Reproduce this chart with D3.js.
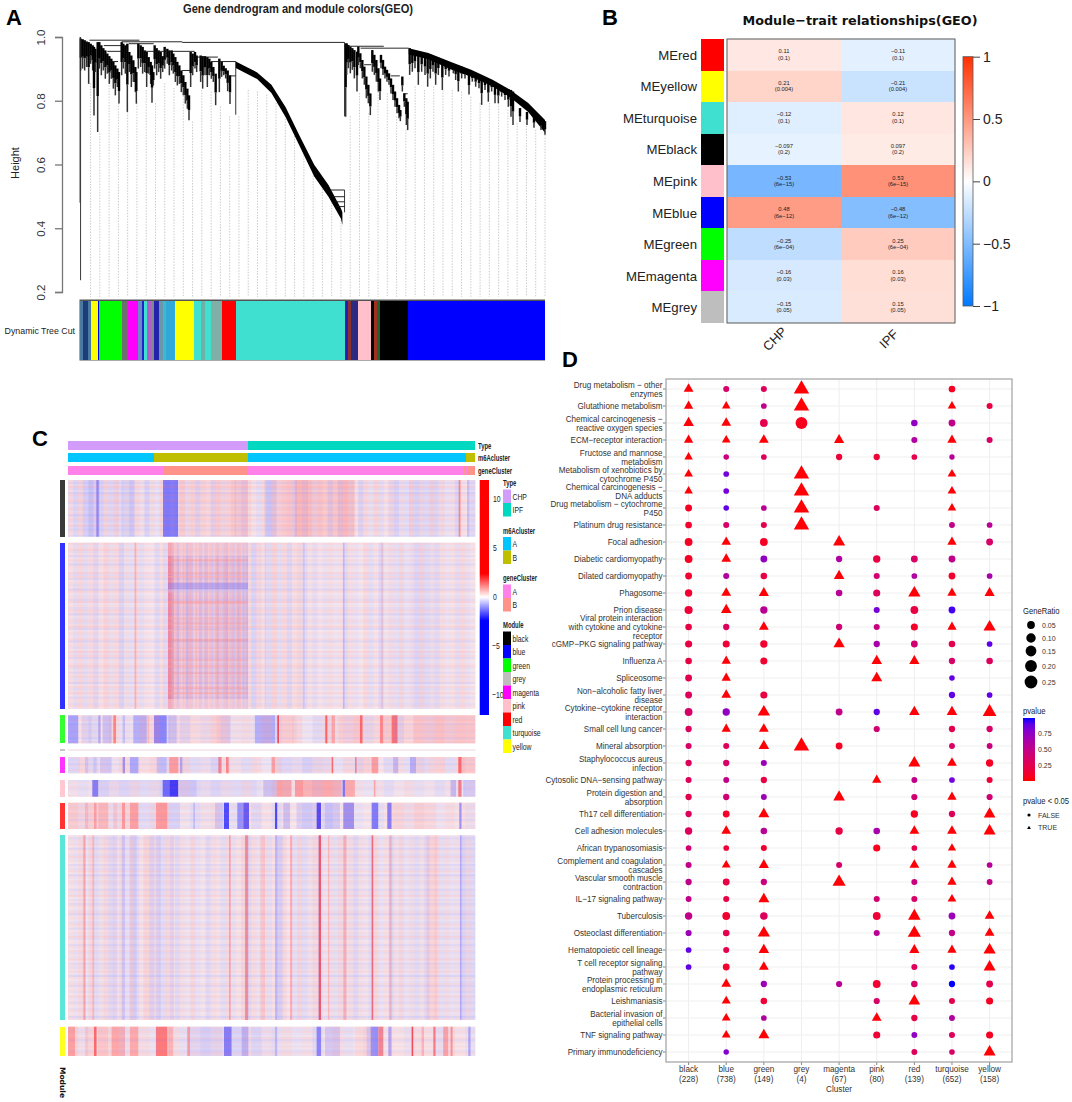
<!DOCTYPE html>
<html>
<head>
<meta charset="utf-8">
<script src="https://cdn.jsdelivr.net/npm/d3@7"></script>
<style>
  html, body { margin: 0; background: #fff; }
  svg { display: block; font-family: "Liberation Sans", Arial, sans-serif; }
</style>
</head>
<body>
<svg id="fig" width="1072" height="1102"></svg>
<script>
// ---- panel A data: dendrogram (leaf order, height) ----
const treeTicks = [0.2, 0.4, 0.6, 0.8, 1.0];
const guideTops = [.855,.698,.866,.793,.782,.793,.834,.793,.855,.84,.824,.735,.834,.829,.782,.751,.751,.834,.829,.819,.793,.761,.698,.646,.583,.541,.499,.426,.751,.824,.761,.855,.824,.751,.709,.845,.834,.845,.834,.834,.829,.813,.793,.793,.793,.772,.73,.73,.709,.693];
const mergeFrom = [28,118,288,743,788,68,78,88,138,178,288,323,368,423,798,873,908,703,708,713,718];
const mergeTo = [168,288,743,853,923,123,118,108,208,323,313,388,438,438,818,898,920,743,743,743,743];
const mergeH = [.99,.985,.983,.971,.965,.973,.955,.923,.979,.955,.895,.937,.923,.878,.913,.878,.822,.52,.499,.483,.468];
const spikeLeaf = [1,3,438,743,743];
const spikeTop = [1,1,.923,.983,.52];
const spikeBottom = [.48,.237,.756,.751,.45];
const curveLeaf = [438,498,538,578,618,658,698,733,737];
const curveTop = [.923,.889,.85,.78,.688,.599,.536,.462,.45];
const curveBottom = [.903,.868,.824,.748,.656,.562,.499,.43,.41];
const tailLeaf = [923,978,1038,1098,1158,1208,1258,1305];
const tailTop = [.965,.95,.923,.897,.866,.834,.793,.74];
const tailBottom = [.945,.93,.9,.875,.845,.81,.765,.7];
const hairLeaf = [20,26,32,38,44,50,56,60,64,71,76,82,88,94,100,106,112,118,124,130,135,143,148,154,160,166,172,178,184,187,193,200,206,212,218,224,230,234,238,242,248,254,260,266,272,280,286,293,298,304,310,316,322,328,334,340,345,350,356,363,368,380,386,393,400,406,412,418,425,436,443,449,455,461,468,
  815,818,823,829,835,841,849,853,859,865,871,877,883,889,895,901,907,913,918,921,927,933,939,945,951,957,963,969,975,979,985,991,997,1001,
  1007,1015,1023,1033,1043,1053,1061,1069,1077,1085,1093,1105,1115,1125,1138,1145,1153,1163,1173,1185,1195,1205,1215,1223,1233,1243,1253,1263,1273,1283,1293,1303,1311,1317,1338,1359,1380,1401,1413];
const hairTop = [.995,.993,.99,.986,.984,.979,.974,.969,.963,.984,.984,.974,.965,.958,.948,.94,.932,.922,.911,.901,.89,.984,.979,.974,.979,.953,.942,.927,.906,.89,.979,.974,.969,.958,.953,.937,.922,.911,.89,.974,.965,.958,.953,.94,.969,.963,.958,.958,.948,.937,.922,.911,.895,.88,.859,.838,.817,.953,.948,.953,.942,.942,.94,.94,.937,.932,.922,.906,.885,.932,.922,.91,.902,.895,.88,
  .98,.98,.975,.97,.965,.959,.954,.97,.949,.928,.907,.876,.85,.823,.959,.944,.928,.902,.87,.944,.928,.907,.897,.886,.87,.85,.829,.808,.787,.771,.876,.823,.808,.797,
  .965,.959,.956,.949,.949,.946,.946,.944,.941,.938,.935,.931,.925,.921,.914,.912,.91,.907,.902,.891,.886,.883,.879,.879,.872,.868,.862,.858,.852,.847,.841,.837,.834,.829,.777,.765,.755,.746,.736];
const hairBottom = [.895,.901,.895,.906,.853,.916,.895,.754,.89,.702,.901,.88,.895,.869,.885,.853,.869,.838,.817,.843,.791,.88,.901,.885,.765,.89,.843,.859,.827,.791,.901,.906,.885,.89,.843,.885,.853,.794,.848,.901,.88,.89,.869,.89,.901,.916,.88,.895,.885,.859,.848,.853,.827,.817,.791,.775,.739,.843,.88,.901,.89,.859,.838,.88,.843,.88,.869,.859,.786,.827,.875,.88,.87,.83,.79,
  .75,.881,.902,.886,.897,.87,.829,.912,.902,.87,.85,.808,.792,.755,.891,.881,.86,.829,.802,.902,.881,.87,.86,.85,.823,.802,.781,.761,.745,.736,.829,.781,.724,.708,
  .881,.891,.902,.85,.891,.881,.844,.87,.891,.85,.881,.834,.881,.876,.886,.865,.829,.87,.87,.82,.86,.844,.839,.787,.834,.797,.829,.792,.792,.813,.802,.781,.75,.724,.733,.724,.715,.708,.693];
const cutStart = [0,10,23,33,51,56,120,135,164,174,182,188,200,208,222,234,243,269,322,340,352,368,399,438,743,752,760,781,818,826,835,843,920];
const cutColor = ["#4a7aa0","#1d3d7a","#4a7aa0","#ffff00","#0000ff","#00ff00","#6e6e6e","#ff00ff","#6a8ac8","#2222cc","#40e0d0","#b45cc8","#808890","#2222aa","#6a98a8","#40b8d0","#30a8d8","#ffff00","#40e0d0","#6fb0a8","#40e0d0","#7eb0a8","#ff0000","#40e0d0","#2222aa","#8a3030","#2a2a80","#ffc0cb","#000000","#a03020","#206030","#000000","#0000ff"];
const cutEnd = 1305;

// ---- panel B data ----
const traitModules = ["red","yellow","turquoise","black","pink","blue","green","magenta","grey"];
const traitSwatch = ["#ff0000","#ffff00","#40e0d0","#000000","#ffc0cb","#0000ff","#00ff00","#ff00ff","#bebebe"];
const traitNames = ["CHP","IPF"];
const corCHP = [0.11,0.21,-0.12,-0.097,-0.53,0.48,-0.25,-0.16,-0.15];
const corIPF = [-0.11,-0.21,0.12,0.097,0.53,-0.48,0.25,0.16,0.15];
const corP = ["0.1","0.004","0.1","0.2","6e−15","6e−12","6e−04","0.03","0.05"];
const corTicks = [-1,-0.5,0,0.5,1];

// ---- panel C data: [first sample, last sample, value] bands read per module ----
const heatBlack = [[0,45,-.15],[45,95,-.5],[85,92,-1.3],[95,160,-.2],[160,200,-.45],[200,285,-.1],[285,330,-1.4],[330,400,.3],[400,500,.35],[500,540,.6],[540,590,.05],[590,625,-.5],[625,680,.5],[680,720,.8],[720,810,.55],[810,860,.7],[860,960,.1],[960,1040,-.2],[1040,1110,-.25],[1110,1172,-.1],[1172,1178,1.2],[1178,1197,0],[1197,1205,-.7],[1205,1222,-.1]];
const heatBlue = [[0,45,.1],[45,60,-.2],[60,155,.15],[155,200,-.15],[200,205,.8],[205,285,0],[285,300,-.2],[300,318,.7],[318,410,.2],[410,540,.15],[540,590,-.05],[590,595,-.4],[595,705,.05],[705,710,-.5],[710,825,.05],[825,830,-.7],[830,940,0],[940,945,.5],[945,1030,-.1],[1030,1100,-.2],[1100,1222,.05]];
const heatGreen = [[0,31,-1],[31,41,0],[41,71,-.4],[71,91,.1],[91,98,-1],[98,104,.1],[104,131,-.7],[131,136,.1],[136,144,1.3],[144,164,0],[164,171,-.7],[171,196,.1],[196,236,-.9],[238,244,.7],[244,258,0],[258,296,-1.3],[301,326,-.7],[331,446,.3],[446,486,.5],[486,556,-.1],[561,621,-.9],[628,633,2],[636,676,.5],[686,766,0],[772,778,1.7],[791,801,1],[811,876,.5],[876,884,1.6],[884,936,.3],[936,946,1.3],[946,971,.4],[971,989,1.5],[989,1036,.4],[1036,1222,.6]];
const heatGrey = [[0,1222,.25]];
const heatMagenta = [[0,36,-.3],[36,51,.2],[51,61,-.6],[61,76,.1],[76,86,-.5],[86,96,.1],[96,131,-.6],[131,164,.1],[164,171,-1.2],[171,186,0],[186,211,-.9],[211,266,.2],[266,296,-.7],[296,304,.2],[304,331,1.1],[336,343,-1],[346,446,-.2],[451,461,1.3],[461,474,.1],[474,482,1.3],[486,566,-.1],[566,611,0],[611,621,1],[626,786,-.3],[791,796,1.6],[796,861,-.1],[861,866,1.3],[871,906,.4],[911,931,1.1],[931,976,0],[976,991,-.8],[991,1026,-.1],[1026,1044,-.9],[1044,1081,-.3],[1081,1131,.4],[1131,1171,-.1],[1171,1181,1.6],[1181,1222,.6]];
const heatPink = [[0,71,-.1],[73,91,-1.4],[91,281,-.3],[284,304,-1.6],[304,331,-2.2],[331,386,-.6],[386,566,-.3],[566,586,-.1],[586,626,-.7],[626,671,1],[671,681,0],[681,706,1.1],[706,731,.8],[731,821,.9],[824,831,-1.5],[831,861,.9],[861,916,-.1],[918,922,1],[926,1146,-.1],[1148,1164,-.8],[1164,1171,-.1],[1171,1181,1.4],[1181,1186,0],[1186,1222,-.6]];
const heatRed = [[0,51,.4],[51,61,.8],[61,78,.3],[78,86,1],[86,91,.2],[91,121,.8],[121,136,.2],[136,148,.6],[148,162,.2],[162,171,1.1],[171,186,.2],[186,211,1],[211,261,-.25],[264,298,1.1],[301,336,-.4],[336,376,-.1],[376,381,-.7],[381,441,-.1],[441,466,-.6],[468,483,-2],[483,508,-.1],[508,526,-1.2],[526,543,-1.8],[543,621,.1],[621,628,-2],[628,646,-.1],[646,666,-.7],[666,686,0],[686,746,-.5],[746,759,-2],[759,771,-.2],[771,816,-.6],[816,826,0],[826,858,-1.2],[858,911,0],[911,931,-1.4],[931,958,0],[958,971,-1.4],[971,1106,.3],[1106,1174,.1],[1174,1181,-1.2],[1181,1222,.2]];
const heatTurquoise = [[0,46,.05],[46,53,1],[53,73,-.05],[73,79,.7],[79,136,-.1],[136,148,-.4],[148,161,-.1],[161,171,-.6],[171,186,-.1],[186,206,-.4],[206,226,0],[226,261,.25],[264,278,-.5],[278,306,-.1],[306,318,-.4],[318,483,-.05],[483,488,1],[488,531,.1],[531,541,1.2],[541,576,.1],[576,591,.5],[591,621,.05],[621,628,-.8],[628,646,-.3],[646,666,0],[666,673,.9],[673,752,-.1],[752,759,1.8],[759,781,-.1],[781,784,.9],[784,826,-.1],[826,836,.9],[836,911,-.1],[911,916,1.6],[916,964,0],[964,971,.8],[971,1076,-.1],[1076,1108,.4],[1108,1176,-.1],[1176,1181,-.9],[1181,1222,-.25]];
const heatYellow = [[0,21,1],[21,51,.2],[51,61,.6],[61,78,.2],[78,86,1.6],[86,91,.2],[91,121,.6],[121,131,.1],[131,171,.9],[171,186,.2],[186,211,.9],[211,261,-.1],[264,298,1.4],[301,316,.8],[316,356,-.1],[358,366,1.1],[366,466,-.4],[468,491,-1.4],[491,521,-.3],[521,541,-.9],[546,616,-.2],[621,628,-.8],[628,746,-.1],[746,759,-1.3],[759,771,-.1],[771,816,-.6],[816,861,-.1],[861,896,.3],[896,908,-.6],[908,931,-1.2],[931,946,1.3],[946,961,0],[961,971,-1],[971,1031,.1],[1031,1036,2],[1036,1061,.1],[1061,1068,.8],[1068,1096,.1],[1096,1103,1.4],[1103,1126,.1],[1126,1141,1],[1141,1148,.1],[1148,1154,1.2],[1154,1201,.1],[1201,1208,-1],[1208,1222,-.1]];

// horizontal banding estimated per module, one value per strip from top to bottom
const shadeBlack = [.3,-.4,.2,.5,-.3,.1,-.5,.4,-.2,.3,.5,-.4,.1,-.3,.4,-.1,.3,-.5,.2,.4,-.3,.1,.5,-.2,-.4,.3,.1,-.3];
const shadeBlue = [.4,-.2,.3,.5,-.3,.2,-.4,.1,.4,-.2,-.5,.3,.2,-.1,.5,-.3,.4,-.4,.1,.3,-.3,.2,-.5,.4,.1,-.2,.3,-.4,.5,-.1,.2,-.3,.4,.3,-.5,.1,-.2,.4,-.3,.2,.5,-.4,.1,.3,-.2,-.1,.4,-.5,.2,.3,-.3,.1,.5,-.2,.4,-.4,.2,-.1,.3,.5,-.3,.1,-.4,.2,.4,-.2,.3,-.5,.1,.4,-.3,.2,.5,-.1,-.4,.3,.2,-.3,.4,.1];
const shadeGreen = [.3,-.3,.4,.1,-.4,.3,-.2,.4,-.3,.2,.3,-.4,.1,.3];
const shadeMagenta = [.3,-.3,.2,-.4,.3,-.2,.4,.1];
const shadePink = [-.3,.3,-.2,.4,-.3,.2,-.1,.3];
const shadeRed = [.3,-.3,.4,-.2,.1,.4,-.3,.2,-.4,.3,.1,-.2,.3];
const shadeTurquoise = [.2,-.4,.3,-.2,.4,.1,-.5,.3,.2,-.3,.5,-.2,.3,.1,-.4,.2,-.3,.4,.1,-.5,.3,-.1,.4,-.3,.2,.1,-.4,.3,-.2,.5,.1,-.3,.2,-.4,.3,.1,-.2,.4,-.5,.2,.3,-.1,-.3,.4,.2,-.4,.1,.3,-.2,.5,-.3,.1,.2,-.4,.3,-.1,.4,-.3,.2,-.2,.5,.1,-.4,.3,-.3,.2,.4,-.1,-.5,.3,.1,-.2,.4,-.4,.2,.3,-.3,.1,.5,-.2,.2,-.4,.3,.1,-.3,.4,-.1,.2,-.5,.3];
const shadeYellow = [.3,-.3,.4,-.2,.1,.4,-.4,.3,-.1,.3,.1,-.3,.4,.2];
// fine columns estimated per module, left to right
const grainBlack = [.4,-.5,.6,-.2,-.7,.3,-.6,.5,-.4,.7,-.3,.2,-.6,.5,.3,-.7,.4,-.2,.6,-.5,.2,-.4,.7,-.3,.5,-.6,.4,.2,-.5,.6,-.3,.4,.7,-.2,-.5,.6,.3,-.4,.5,-.6,.7,-.2,.4,.6,-.5,.3,-.4,.7,-.3,.5,.2,-.6,.4,-.5,.6,-.2,.3,-.7,.5,-.3,.6,-.4,.2,.5,-.6,.3,-.2,.7,-.5,.4,-.3,.6,-.4,.5,-.2,.3,-.6,.4,.2,-.5];
const grainBlue = [.3,-.4,.5,-.2,.4,-.5,.2,.5,-.3,.4,-.6,.3,-.2,.5,-.4,.3,.2,-.5,.4,-.3,.6,-.2,.3,-.5,.4,.2,-.4,.5,-.3,.6,-.5,.7,-.4,.6,-.6,.5,-.7,.6,.3,-.5,.7,-.4,.5,-.6,.4,.6,-.5,.3,-.4,.2,-.3,.4,-.2,.3,-.5,.4,-.3,.2,.5,-.4,.3,-.6,.2,.4,-.3,.5,-.2,.3,-.4,.5,-.3,.2,-.5,.4,-.2,.3,-.4,.5,-.3,.2];
const grainTurquoise = [.3,-.3,.5,-.2,.6,-.4,.3,.5,-.5,.2,.4,-.3,.6,-.5,.3,.4,-.6,.2,-.4,.5,.3,-.5,.4,-.2,.6,-.3,.2,-.5,.4,.3,-.4,.5,-.3,.2,.6,-.5,.4,-.2,.5,-.4,.3,-.6,.5,.2,-.3,.6,-.4,.3,.5,-.5,.2,.4,-.3,.5,-.2,.4,-.5,.3,.2,-.4,.6,-.3,.4,-.5,.3,.5,-.2,.4,-.4,.3,-.5,.2,.5,-.3,.4,-.2,.3,-.5,.4,-.3];
const grainGreen = [-.4,.3,-.5,.2,.5,-.3,-.2,.4,.6,-.4,.3,-.5,.2,-.3,.5,-.6,.3,.4,-.2,.5,-.4,.3,.6,-.2,-.5,.4,.2,-.3,.5,-.4,.3,.6,-.5,.2,.4,-.3,.5,-.2,.4,.3];
const grainMagenta = [-.3,.4,-.5,.3,-.2,.5,-.6,.2,.4,-.4,.3,.5,-.3,.2,-.5,.4,.3,-.4,.5,-.2,.6,-.3,.2,-.5,.4,.3,-.2,.5,-.4,.3,.2,-.5,.4,-.3,.5,-.2,.3,-.4,.5,.2];
const grainPink = [.3,-.3,.2,-.5,.3,-.4,.4,-.2,.3,-.5,.2,.4,-.3,.2,-.4,.3,-.2,.4,-.3,.2,.5,-.2,.4,.5,-.4,.6,-.3,.5,.3,-.2,.3,-.4,.2,.4,-.3,.2,-.4,.3,-.3,.2];
const grainRed = [.5,-.2,.6,.3,-.3,.5,.6,-.2,.4,.5,-.3,.2,-.4,.3,.4,-.2,-.3,.3,-.5,.2,-.4,.3,.2,-.4,.3,-.5,.2,.4,-.3,.2,-.4,.3,.4,-.2,.5,.3,-.2,.4,.2,-.3];
const grainYellow = [.6,-.2,.5,.3,.6,-.3,.5,.4,-.2,.6,.4,-.3,.2,-.4,.3,.2,-.4,.3,-.5,.2,-.3,.4,-.2,.3,-.5,.2,.4,-.3,.2,.4,-.4,.3,.2,-.3,.4,.3,-.4,.5,.2,-.3];
// the hot zone of the blue module: rows [first %, last %, value], then its columns
const blueHotRows = [[0,8,.4],[10,11.2,1],[18,19,.9],[20,21,.8],[24,28,-1.3],[28,30,-.5],[35,37,1],[45,46,.9],[48,49.2,1],[52,53,.8],[58,59.4,1.1],[63,64,.8],[70,71,1],[74,75,.8],[78,79,1],[87,88,1],[90,91,.9],[94,100,.3]];
const blueHotCols = [.9,.8,-.4,.3,.5,-.6,.4,-.2,.5,.3,-.5,.4,.5,-.4,-.1,.5,.3,-.5,.4,-.1,.5,-.4,.2,.4,-.4,.3,.5,-.5,.3,-.2,.4,.5,-.5,.2,-.3,.5,-.4,.3,-.5,.5,.2,-.4,.3,-.5];

const moduleNames = ["black","blue","green","grey","magenta","pink","red","turquoise","yellow"];
const moduleColor = ["#000000","#0000ff","#00ff00","#bebebe","#ff00ff","#ffc0cb","#ff0000","#40e0d0","#ffff00"];
const heatTicks = [10,5,0,-5,-10];

// ---- panel D data ----
const clusterNames = ["black","blue","green","grey","magenta","pink","red","turquoise","yellow"];
const clusterCounts = [228,738,149,4,67,80,139,652,158];
const pathways = ["Drug metabolism − other\nenzymes","Glutathione metabolism","Chemical carcinogenesis −\nreactive oxygen species","ECM−receptor interaction","Fructose and mannose\nmetabolism","Metabolism of xenobiotics by\ncytochrome P450","Chemical carcinogenesis −\nDNA adducts","Drug metabolism − cytochrome\nP450","Platinum drug resistance","Focal adhesion","Diabetic cardiomyopathy","Dilated cardiomyopathy","Phagosome","Prion disease","Viral protein interaction\nwith cytokine and cytokine\nreceptor","cGMP−PKG signaling pathway","Influenza A","Spliceosome","Non−alcoholic fatty liver\ndisease","Cytokine−cytokine receptor\ninteraction","Small cell lung cancer","Mineral absorption","Staphylococcus aureus\ninfection","Cytosolic DNA−sensing pathway","Protein digestion and\nabsorption","Th17 cell differentiation","Cell adhesion molecules","African trypanosomiasis","Complement and coagulation\ncascades","Vascular smooth muscle\ncontraction","IL−17 signaling pathway","Tuberculosis","Osteoclast differentiation","Hematopoietic cell lineage","T cell receptor signaling\npathway","Protein processing in\nendoplasmic reticulum","Leishmaniasis","Bacterial invasion of\nepithelial cells","TNF signaling pathway","Primary immunodeficiency"];
const _ = null;
// GeneRatio, one row per pathway, one column per cluster
const geneRatio = [
 [.06,.016,.016,.25,_,_,_,.027,_],
 [.05,.035,.012,.25,_,_,_,.035,.016],
 [.08,.06,.05,.2,_,_,.025,.03,_],
 [.05,.04,.06,_,.07,_,.016,.05,.016],
 [.035,.01,.012,_,.02,.02,.012,.008,_],
 [.04,.012,_,.25,_,_,_,.04,_],
 [.035,.012,_,.25,_,_,_,.04,_],
 [.03,.01,.012,.25,_,.016,_,.035,_],
 [.027,.016,.016,.25,_,_,_,.014,.012],
 [.05,.055,.05,_,.12,_,_,.05,.03],
 [.05,.06,.03,_,.02,.04,.03,.03,_],
 [.03,.016,.025,_,.08,.016,.012,.03,.012],
 [.04,.06,.07,_,.025,.035,.13,.05,.07],
 [.06,.08,.04,_,_,.016,.05,.03,_],
 [.025,.02,.06,_,.02,.016,.035,.05,.13],
 [.035,.035,.04,_,.1,.02,.03,.025,.012],
 [.025,.05,.035,_,_,.08,.07,.02,.025],
 [.03,.05,_,_,_,.09,_,.01,_],
 [.03,.06,.035,_,_,_,_,.02,.012],
 [.05,.04,.13,_,.03,.02,.08,.08,.18],
 [.02,.05,.06,_,_,.018,_,.02,.02],
 [.016,.016,.08,.25,.03,_,_,.014,.014],
 [.02,.02,.016,_,_,_,.12,.06,.04],
 [.016,.014,.02,_,_,.05,.014,.012,.016],
 [.02,.02,.014,_,.11,_,.018,.05,.018],
 [.02,.03,.09,_,_,_,.04,.02,.11],
 [.04,.06,.025,_,.04,.025,.06,.06,.12],
 [.012,.012,.016,_,_,.035,.012,.03,_],
 [.016,.04,.07,_,.016,_,.06,.05,.012],
 [.02,.03,.02,_,.16,_,.016,.05,.014],
 [.014,.016,.09,_,_,.016,.016,.04,_],
 [.04,.05,.045,_,_,.05,.14,.03,.06],
 [.018,.025,.13,_,_,.016,.16,.02,.06],
 [.012,.016,.08,_,_,_,.07,.05,.13],
 [.012,.03,.06,_,_,_,.016,.012,.12],
 [_,.06,.02,_,.018,.05,.025,.02,.03],
 [_,.045,.025,_,_,.018,.11,.016,.035],
 [_,.04,.012,_,_,.06,.02,.014,_],
 [_,.04,.09,_,_,.035,.014,.016,.035],
 [_,.009,_,_,_,_,.014,.011,.12]
];
// p value, same layout as geneRatio; below 0.05 is drawn as a triangle
const pValue = [
 [.01,.35,.3,.01,_,_,_,.08,_],
 [.01,.01,.5,.01,_,_,_,.01,.2],
 [.01,.01,.25,.06,_,_,.75,.5,_],
 [.01,.01,.01,_,.01,_,.6,.01,.35],
 [.01,.45,.3,_,.15,.15,.25,.55,_],
 [.01,.85,_,.01,_,_,_,.01,_],
 [.01,.85,_,.01,_,_,_,.01,_],
 [.08,.9,.55,.01,_,.3,_,.01,_],
 [.1,.35,.25,.01,_,_,_,.5,.55],
 [.08,.01,.08,_,.01,_,_,.01,.35],
 [.08,.01,.75,_,.6,.2,.35,.5,_],
 [.12,.6,.2,_,.01,.4,.6,.1,.65],
 [.12,.01,.01,_,.55,.3,.01,.01,.01],
 [.15,.01,.55,_,_,.85,.2,.95,_],
 [.2,.3,.01,_,.4,.45,.1,.01,.01],
 [.2,.15,.12,_,.01,.65,.4,.25,.9],
 [.2,.01,.12,_,_,.01,.01,.35,.3],
 [.25,.01,_,_,_,.01,_,.9,_],
 [.3,.01,.2,_,_,_,_,.9,.9],
 [.35,.75,.01,_,.5,.9,.01,.01,.01],
 [.3,.01,.01,_,_,.4,_,.25,.35],
 [.35,.3,.01,.01,.08,_,_,.35,.45],
 [.3,.35,.7,_,_,_,.01,.01,.08],
 [.3,.5,.2,_,_,.01,.5,.85,.15],
 [.25,.4,.7,_,.01,_,.4,.01,.4],
 [.3,.1,.01,_,_,_,.08,.3,.01],
 [.3,.01,.55,_,.2,.65,.01,.01,.01],
 [.4,.15,.12,_,_,.05,.25,.01,_],
 [.5,.01,.01,_,.35,_,.01,.01,.55],
 [.5,.2,.45,_,.01,_,.45,.01,.5],
 [.5,.2,.01,_,_,.4,.35,.01,_],
 [.5,.12,.3,_,_,.15,.01,.7,.01],
 [.7,.25,.01,_,_,.55,.01,.5,.01],
 [.9,.25,.01,_,_,_,.01,.01,.01],
 [.9,.12,.01,_,_,_,.3,.98,.01],
 [_,.01,.7,_,.55,.12,.35,1,.25],
 [_,.01,.15,_,_,.35,.01,.25,.08],
 [_,.01,.6,_,_,.01,.2,.6,_],
 [_,.01,.01,_,_,.15,.75,.3,.08],
 [_,.8,_,_,_,_,.3,.35,.01]
];
const ratioLegend = [0.05,0.10,0.15,0.20,0.25];
const pLegend = [0.25,0.5,0.75];

const svg = d3.select("#fig");

// the source figure was squeezed sideways, so some text needs the same squeeze
function squeezed(g, txt, x, y, size, sx) {
  return g.append("text").attr("transform", `translate(${x},${y}) scale(${sx},1)`).attr("font-size", size).text(txt);
}

function panelLetter(t, x, y) {
  svg.append("text").attr("x", x).attr("y", y).attr("font-size", 22).attr("font-weight", "bold").text(t);
}
panelLetter("A", 6, 25);
panelLetter("B", 602, 25);
panelLetter("C", 32, 446);
panelLetter("D", 562, 367);

// ---- A: dendrogram ----
const treeX = d3.scaleLinear().domain([0, cutEnd]).range([79.5, 545]);
const hairX = d3.scaleLinear().domain([0, 1413]).range([74, 545]);
const treeY = d3.scaleLinear().domain([0.2, 1]).range([292, 37]);
const gA = svg.append("g");

gA.append("text").attr("x", 298).attr("y", 13).attr("text-anchor", "middle")
  .attr("font-size", 12).attr("font-weight", "bold").attr("fill", "#222")
  .attr("textLength", 230).attr("lengthAdjust", "spacingAndGlyphs")
  .text("Gene dendrogram and module colors(GEO)");

gA.append("g").attr("transform", "translate(62,0)")
  .call(d3.axisLeft(treeY).tickValues(treeTicks).tickFormat(d3.format(".1f")).tickSize(7))
  .call(g => g.selectAll("path,line").attr("stroke", "#777").attr("stroke-width", 1.3))
  .call(g => g.selectAll("text").attr("font-size", 11.5).attr("fill", "#333")
    .attr("font-family", "Liberation Sans").attr("x", 0).attr("dy", 0)
    .attr("text-anchor", "middle")
    .attr("transform", "translate(-17,0) rotate(-90)"));

gA.append("text").attr("transform", "translate(19,163) rotate(-90)").attr("text-anchor", "middle")
  .attr("font-size", 11).attr("fill", "#222").text("Height");

guideTops.forEach((h, i) => {
  const lx = treeX(31 + i * 26);
  gA.append("line").attr("x1", lx).attr("x2", lx)
    .attr("y1", treeY(h)).attr("y2", treeY(0.185))
    .attr("stroke", "#bbb").attr("stroke-width", 0.8).attr("stroke-dasharray", "1.4,1.4");
});

const bandArea = d3.area().x(d => treeX(d[0])).y0(d => treeY(d[1])).y1(d => treeY(d[2]));
gA.append("path").datum(d3.zip(curveLeaf, curveTop, curveBottom)).attr("d", bandArea).attr("fill", "#000");
gA.append("path").datum(d3.zip(tailLeaf, tailTop, tailBottom)).attr("d", bandArea).attr("fill", "#000");

hairLeaf.forEach((l, i) => {
  const lineH = d3.line().x(hairX(l)).y(d => treeY(d));
  const mid = hairTop[i] - (hairTop[i] - hairBottom[i]) * 0.6;
  gA.append("path").attr("d", lineH([hairTop[i], mid])).attr("stroke", "#000").attr("stroke-width", 2.4).attr("fill", "none");
  gA.append("path").attr("d", lineH([mid, hairBottom[i]])).attr("stroke", "#333").attr("stroke-width", 1.5).attr("fill", "none");
});
spikeLeaf.forEach((l, i) => {
  gA.append("line").attr("x1", treeX(l)).attr("x2", treeX(l))
    .attr("y1", treeY(spikeTop[i])).attr("y2", treeY(spikeBottom[i]))
    .attr("stroke", i < 1 ? "#666" : "#222").attr("stroke-width", 0.9);
});
mergeFrom.forEach((l, i) => {
  gA.append("line").attr("x1", treeX(l)).attr("x2", treeX(mergeTo[i]))
    .attr("y1", treeY(mergeH[i])).attr("y2", treeY(mergeH[i]))
    .attr("stroke", "#111").attr("stroke-width", 0.9);
});

// module colour strip under the tree
const stripTop = 300.5, stripBottom = 360;
gA.append("rect").attr("x", treeX(0)).attr("y", stripTop - 1).attr("width", treeX(cutEnd) - treeX(0)).attr("height", stripBottom - stripTop + 1.5).attr("fill", "#555");
cutStart.forEach((s, i) => {
  const e = i + 1 < cutStart.length ? cutStart[i + 1] : cutEnd;
  gA.append("rect").attr("x", treeX(s)).attr("y", stripTop).attr("width", treeX(e) - treeX(s))
    .attr("height", stripBottom - stripTop).attr("fill", cutColor[i]).attr("shape-rendering", "crispEdges");
});
gA.append("text").attr("x", 75).attr("y", 334).attr("text-anchor", "end").attr("font-size", 8.8).attr("fill", "#222").text("Dynamic Tree Cut");

// ---- B: module-trait heatmap ----
const corColor = d3.scaleLinear().domain([-1, 0, 1]).range(["#0078ff", "#ffffff", "#ff3000"]);
const traitY = d3.scaleBand().domain(traitModules).range([39, 323]);
const traitX = d3.scaleBand().domain(traitNames).range([727, 955]);
const gB = svg.append("g");

gB.append("text").attr("x", 860).attr("y", 25).attr("text-anchor", "middle")
  .attr("font-size", 13).attr("font-weight", "bold").attr("font-family", "DejaVu Sans").attr("fill", "#111")
  .attr("textLength", 235).attr("lengthAdjust", "spacingAndGlyphs")
  .text("Module−trait relationships(GEO)");

traitModules.forEach((m, i) => {
  gB.append("rect").attr("x", 701).attr("y", traitY(m)).attr("width", 22.5).attr("height", traitY.bandwidth())
    .attr("fill", traitSwatch[i]).attr("shape-rendering", "crispEdges");
  gB.append("text").attr("x", 697).attr("y", traitY(m) + traitY.bandwidth() / 2 + 5).attr("text-anchor", "end")
    .attr("font-size", 13.2).attr("fill", "#222").text("ME" + m);
  [corCHP, corIPF].forEach((col, j) => {
    const t = traitNames[j], cx = traitX(t) + traitX.bandwidth() / 2, cy = traitY(m) + traitY.bandwidth() / 2;
    gB.append("rect").attr("x", traitX(t)).attr("y", traitY(m)).attr("width", traitX.bandwidth())
      .attr("height", traitY.bandwidth()).attr("fill", corColor(col[i])).attr("shape-rendering", "crispEdges");
    const label = String(col[i]).replace("-", "−");
    gB.append("text").attr("x", cx).attr("y", cy - 1.5).attr("text-anchor", "middle").attr("font-size", 5.8).attr("fill", "#222").text(label);
    gB.append("text").attr("x", cx).attr("y", cy + 5).attr("text-anchor", "middle").attr("font-size", 5.8).attr("fill", "#222").text(`(${corP[i]})`);
  });
});
gB.append("rect").attr("x", 727).attr("y", 39).attr("width", 228).attr("height", 284)
  .attr("fill", "none").attr("stroke", "#666").attr("stroke-width", 1.1);
traitNames.forEach(t => {
  gB.append("text").attr("transform", `translate(${traitX(t) + traitX.bandwidth() / 2 - 6},342) rotate(-45)`)
    .attr("text-anchor", "middle").attr("font-size", 13).attr("fill", "#222").text(t);
});

const defs = svg.append("defs");
const gradCor = defs.append("linearGradient").attr("id", "corGrad").attr("x1", 0).attr("x2", 0).attr("y1", 1).attr("y2", 0);
corTicks.forEach((v, i) => gradCor.append("stop").attr("offset", i / (corTicks.length - 1)).attr("stop-color", corColor(v)));
const corAxisY = d3.scaleLinear().domain([-1, 1]).range([306, 56.7]);
gB.append("rect").attr("x", 963).attr("y", 56.7).attr("width", 10).attr("height", 249.3)
  .attr("fill", "url(#corGrad)").attr("stroke", "#555").attr("stroke-width", 0.8);
gB.append("g").attr("transform", "translate(973,0)")
  .call(d3.axisRight(corAxisY).tickValues(corTicks).tickSize(7).tickFormat(d => String(d).replace("-", "−")))
  .call(g => g.select(".domain").remove())
  .call(g => g.selectAll("line").attr("stroke", "#444"))
  .call(g => g.selectAll("text").attr("font-size", 14).attr("font-family", "Liberation Sans").attr("fill", "#222").attr("x", 10));

// ---- C: expression heatmap ----
const sampleX = d3.scaleLinear().domain([0, 1222]).range([68, 475.3]);
const expColor = d3.scaleLinear().domain([-2.4, 0, 2.4]).range(["#0000ff", "#ffffff", "#ff0000"]).clamp(true);
const gC = svg.append("g");

const annotRows = [
  { name: "Type", y0: 440.7, y1: 450, cuts: [0, 540, 1222], fills: ["#d39cfa", "#00d8c0"] },
  { name: "m6Acluster", y0: 453, y1: 462.3, cuts: [0, 257, 540, 1194, 1222], fills: ["#00c5ff", "#bfbf00", "#00c5ff", "#bfbf00"] },
  { name: "geneCluster", y0: 465.7, y1: 475, cuts: [0, 284, 540, 1187, 1191, 1194, 1201, 1222], fills: ["#ff80e8", "#ff9289", "#ff80e8", "#ff9289", "#ff80e8", "#ff80e8", "#ff9289"] }
];
annotRows.forEach(r => {
  r.fills.forEach((f, i) => {
    gC.append("rect").attr("x", sampleX(r.cuts[i])).attr("y", r.y0).attr("width", sampleX(r.cuts[i + 1]) - sampleX(r.cuts[i]))
      .attr("height", r.y1 - r.y0).attr("fill", f).attr("shape-rendering", "crispEdges");
  });
  squeezed(gC, r.name, 478, (r.y0 + r.y1) / 2 + 3.5, 9.5, 0.62).attr("font-weight", "bold").attr("fill", "#222");
});

const heatBlocks = [
  { bands: heatBlack, shade: shadeBlack, grain: grainBlack, y0: 480, y1: 536.7, strip: "#3a3a3a" },
  { bands: heatBlue, shade: shadeBlue, grain: grainBlue, y0: 542.7, y1: 709, strip: "#3232ff" },
  { bands: heatGreen, shade: shadeGreen, grain: grainGreen, y0: 715.3, y1: 743.3, strip: "#33ff33" },
  { bands: heatGrey, shade: [0], grain: [0], y0: 749.3, y1: 751, strip: "#c6c6c6" },
  { bands: heatMagenta, shade: shadeMagenta, grain: grainMagenta, y0: 757, y1: 773.3, strip: "#ff33ff" },
  { bands: heatPink, shade: shadePink, grain: grainPink, y0: 780, y1: 796.7, strip: "#ffc8d2" },
  { bands: heatRed, shade: shadeRed, grain: grainRed, y0: 802.7, y1: 829, strip: "#ff3333" },
  { bands: heatTurquoise, shade: shadeTurquoise, grain: grainTurquoise, y0: 835.3, y1: 1020, strip: "#5ce5d8" },
  { bands: heatYellow, shade: shadeYellow, grain: grainYellow, y0: 1026.7, y1: 1056, strip: "#ffff22" }
];
heatBlocks.forEach(b => {
  const rowY = d3.scaleLinear().domain([0, b.shade.length]).range([b.y0, b.y1]);
  const colX = d3.scaleLinear().domain([0, b.grain.length]).range([sampleX(0), sampleX(1222)]);
  gC.append("rect").attr("x", sampleX(0)).attr("y", b.y0).attr("width", sampleX(1222) - sampleX(0)).attr("height", b.y1 - b.y0).attr("fill", "#f2e8f0");
  gC.append("rect").attr("x", 59.7).attr("y", b.y0).attr("width", 5.6).attr("height", b.y1 - b.y0).attr("fill", b.strip).attr("shape-rendering", "crispEdges");
  b.bands.forEach(d => {
    gC.append("rect").attr("x", sampleX(d[0])).attr("y", b.y0).attr("width", sampleX(d[1]) - sampleX(d[0]))
      .attr("height", b.y1 - b.y0).attr("fill", expColor(d[2] * 0.85)).attr("opacity", Math.min(1, 0.45 + Math.abs(d[2]) * 0.4));
  });
  b.grain.forEach((v, i) => {
    gC.append("rect").attr("x", colX(i)).attr("y", b.y0).attr("width", colX(i + 1) - colX(i))
      .attr("height", b.y1 - b.y0).attr("fill", v > 0 ? "#ff5050" : "#5050ff").attr("opacity", Math.abs(v) * 0.2);
  });
  b.shade.forEach((v, i) => {
    gC.append("rect").attr("x", sampleX(0)).attr("y", rowY(i)).attr("width", sampleX(1222) - sampleX(0))
      .attr("height", rowY(i + 1) - rowY(i)).attr("fill", v > 0 ? "#ff6060" : "#6060ff").attr("opacity", Math.abs(v) * 0.26);
  });
});
// hot zone across the middle of the blue block
const blueRows = d3.scaleLinear().domain([0, 100]).range([542.7, 709]);
const hotX = d3.scaleLinear().domain([0, blueHotCols.length]).range([sampleX(300), sampleX(540)]);
blueHotCols.forEach((v, i) => {
  gC.append("rect").attr("x", hotX(i)).attr("y", 542.7).attr("width", hotX(i + 1) - hotX(i)).attr("height", 166.3)
    .attr("fill", v > 0 ? "#e02060" : "#5030e0").attr("opacity", Math.abs(v) * 0.36);
});
blueHotRows.forEach(d => {
  gC.append("rect").attr("x", sampleX(300)).attr("y", blueRows(d[0])).attr("width", sampleX(540) - sampleX(300))
    .attr("height", blueRows(d[1]) - blueRows(d[0])).attr("fill", expColor(d[2])).attr("opacity", 0.38);
});

gC.append("text").attr("transform", "translate(59.5,1067) rotate(90)").attr("font-size", 7.5).attr("font-weight", "bold").attr("font-family", "DejaVu Sans").attr("fill", "#111").text("Module");

// heatmap colour bar and legends
const expAxis = d3.scaleLinear().domain([-12, 11.9]).range([715, 480]);
const gradExp = defs.append("linearGradient").attr("id", "expGrad").attr("x1", 0).attr("x2", 0).attr("y1", 1).attr("y2", 0);
[-12, -2.4, 0, 2.4, 11.9].forEach(v => gradExp.append("stop").attr("offset", (v + 12) / 23.9).attr("stop-color", expColor(v)));
gC.append("rect").attr("x", 479.7).attr("y", 480).attr("width", 9.3).attr("height", 235).attr("fill", "url(#expGrad)");
heatTicks.forEach(v => {
  squeezed(gC, String(v).replace("-", "−"), v < 0 ? 492 : 493, expAxis(v) + 3, 9.5, 0.72).attr("fill", "#222");
});

function heatLegend(title, y, labels, fills) {
  squeezed(gC, title, 503, y, 9.5, 0.62).attr("font-weight", "bold").attr("fill", "#222");
  labels.forEach((l, i) => {
    gC.append("rect").attr("x", 503).attr("y", y + 3.5 + i * 13.5).attr("width", 8).attr("height", 13.5).attr("fill", fills[i]);
    squeezed(gC, l, 512.5, y + 13.5 + i * 13.5, 9.5, 0.72).attr("fill", "#222");
  });
}
heatLegend("Type", 486, traitNames, ["#d39cfa", "#00d8c0"]);
heatLegend("m6Acluster", 533.5, ["A", "B"], ["#00c5ff", "#bfbf00"]);
heatLegend("geneCluster", 581, ["A", "B"], ["#ff80e8", "#ff9289"]);
heatLegend("Module", 628, moduleNames, moduleColor);

// ---- D: enrichment dot plot ----
const clusterX = d3.scalePoint().domain(clusterNames).range([688.6, 989.6]);
const pathY = d3.scalePoint().domain(pathways).range([389, 1052]);
const pColor = d3.scaleLinear().domain([0, 1]).range(["#ff0000", "#0000ff"]).interpolate(d3.interpolateLab);
const sizeR = d3.scaleSqrt().domain([0.005, 0.25]).range([2.5, 6.4]);
const gD = svg.append("g");

pathways.forEach(p => {
  gD.append("line").attr("x1", 666).attr("x2", 1012).attr("y1", pathY(p)).attr("y2", pathY(p)).attr("stroke", "#efefef").attr("stroke-width", 1.1);
  gD.append("line").attr("x1", 663).attr("x2", 666).attr("y1", pathY(p)).attr("y2", pathY(p)).attr("stroke", "#666").attr("stroke-width", 0.8);
  const lines = p.split("\n");
  lines.forEach((l, i) => {
    squeezed(gD, l, 662.5, pathY(p) + 3.3 + (i - (lines.length - 1) / 2) * 9, 9, 0.9)
      .attr("text-anchor", "end").attr("fill", "#333");
  });
});
clusterNames.forEach((c, i) => {
  gD.append("line").attr("y1", 379).attr("y2", 1062).attr("x1", clusterX(c)).attr("x2", clusterX(c)).attr("stroke", "#efefef").attr("stroke-width", 1.1);
  gD.append("line").attr("y1", 1062).attr("y2", 1065).attr("x1", clusterX(c)).attr("x2", clusterX(c)).attr("stroke", "#666").attr("stroke-width", 0.8);
  squeezed(gD, c, clusterX(c), 1072, 9.3, 0.88).attr("text-anchor", "middle").attr("fill", "#333");
  squeezed(gD, `(${clusterCounts[i]})`, clusterX(c), 1082, 9.3, 0.88).attr("text-anchor", "middle").attr("fill", "#333");
});
squeezed(gD, "Cluster", 839, 1092, 9.3, 0.88).attr("text-anchor", "middle").attr("fill", "#333");
gD.append("rect").attr("x", 666).attr("y", 379).attr("width", 346).attr("height", 683)
  .attr("fill", "none").attr("stroke", "#a8a8a8").attr("stroke-width", 1.3);

function glyph(r, isTri) {
  if (isTri) {
    const w = 2.4 * r;
    return d3.symbol().type(d3.symbolTriangle).size(Math.sqrt(3) / 4 * w * w)();
  }
  return d3.symbol().type(d3.symbolCircle).size(Math.PI * r * r)();
}
pathways.forEach((p, row) => {
  clusterNames.forEach((c, col) => {
    const ratio = geneRatio[row][col];
    if (ratio == null) return;
    const pv = pValue[row][col];
    gD.append("path").attr("transform", `translate(${clusterX(c)},${pathY(p)})`)
      .attr("d", glyph(sizeR(ratio), pv < 0.05)).attr("fill", pColor(pv));
  });
});

// legends of D
squeezed(gD, "GeneRatio", 1023, 614, 9, 0.85).attr("fill", "#222");
const ratioY = [625, 638, 651, 666, 682];
ratioLegend.forEach((v, i) => {
  gD.append("path").attr("transform", `translate(1031,${ratioY[i]})`).attr("d", glyph(sizeR(v), false)).attr("fill", "#000");
  gD.append("text").attr("x", 1042).attr("y", ratioY[i] + 2.5).attr("font-size", 7).attr("fill", "#333").text(v.toFixed(2));
});
squeezed(gD, "pvalue", 1023, 714, 9, 0.85).attr("fill", "#222");
const pAxis = d3.scaleLinear().domain([0, 1]).range([781, 718]);
const gradP = defs.append("linearGradient").attr("id", "pGrad").attr("x1", 0).attr("x2", 0).attr("y1", 1).attr("y2", 0);
d3.range(0, 1.01, 0.1).forEach(v => gradP.append("stop").attr("offset", v).attr("stop-color", pColor(v)));
gD.append("rect").attr("x", 1023).attr("y", 718).attr("width", 12).attr("height", 63).attr("fill", "url(#pGrad)");
pLegend.forEach(v => {
  gD.append("text").attr("x", 1038).attr("y", pAxis(v) + 2.5).attr("font-size", 7).attr("fill", "#333").text(v.toFixed(2));
});
squeezed(gD, "pvalue < 0.05", 1023, 804, 9, 0.85).attr("fill", "#222");
gD.append("path").attr("transform", "translate(1029,815)").attr("d", glyph(1.6, false)).attr("fill", "#000");
gD.append("text").attr("x", 1038).attr("y", 817.5).attr("font-size", 7).attr("fill", "#333").text("FALSE");
gD.append("path").attr("transform", "translate(1029,828)").attr("d", glyph(1.6, true)).attr("fill", "#000");
gD.append("text").attr("x", 1038).attr("y", 830).attr("font-size", 7).attr("fill", "#333").text("TRUE");
</script>
</body>
</html>
